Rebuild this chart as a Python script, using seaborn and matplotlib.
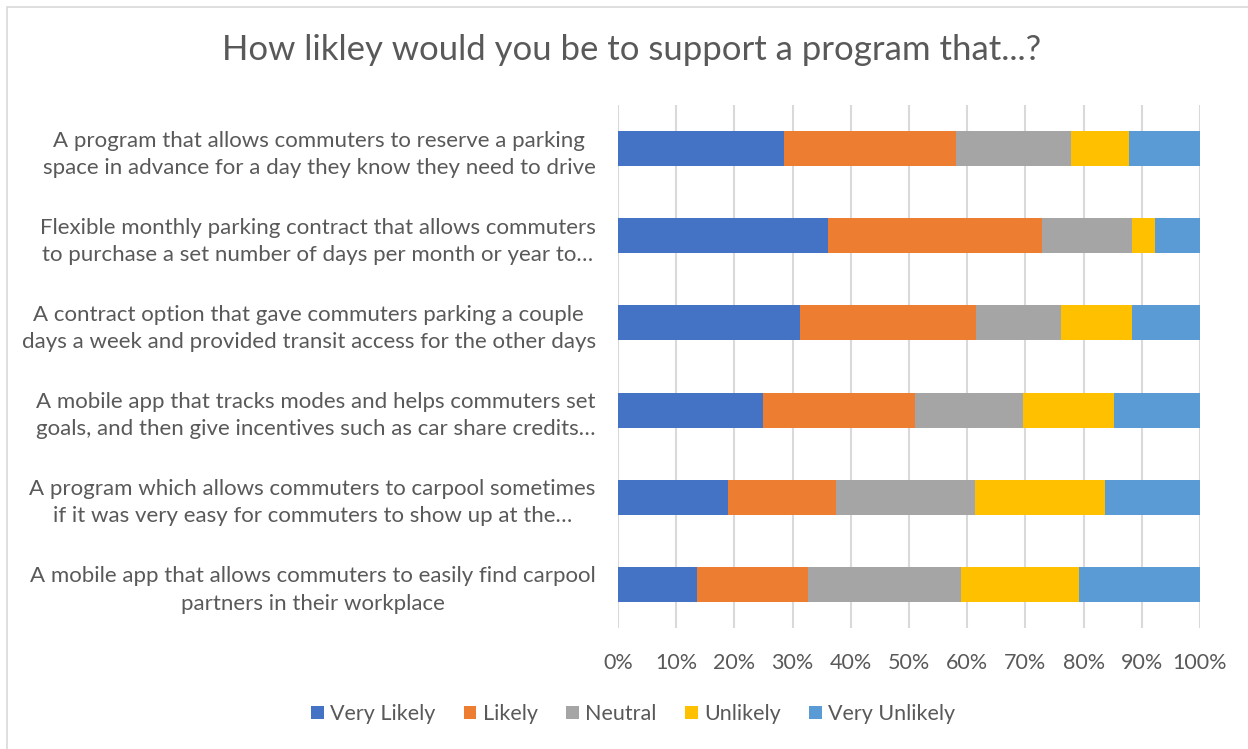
import matplotlib
matplotlib.use("Agg")
import matplotlib.pyplot as plt
from matplotlib.patches import Patch, Rectangle
from matplotlib.ticker import PercentFormatter, MultipleLocator
import seaborn as sns
import pandas as pd
import numpy as np

# Survey questions (top to bottom)
questions = [
    "A program that allows commuters to reserve a parking\nspace in advance for a day they know they need to drive",
    "Flexible monthly parking contract that allows commuters\nto purchase a set number of days per month or year to\u2026",
    "A contract option that gave commuters parking a couple\ndays a week and provided transit access for the other days",
    "A mobile app that tracks modes and helps commuters set\ngoals, and then give incentives such as car share credits\u2026",
    "A program which allows commuters to carpool sometimes\nif it was very easy for commuters to show up at the\u2026",
    "A mobile app that allows commuters to easily find carpool\npartners in their workplace",
]

responses = ["Very Likely", "Likely", "Neutral", "Unlikely", "Very Unlikely"]
colors = ["#4472C4", "#ED7D31", "#A5A5A5", "#FFC000", "#5B9BD5"]

# Share of respondents (%) per answer, one list per response level
very_likely = [28.5, 36.1, 31.3, 24.9, 18.9, 13.6]
likely = [29.6, 36.7, 30.2, 26.1, 18.6, 19.0]
neutral = [19.7, 15.6, 14.7, 18.6, 23.8, 26.4]
unlikely = [10.0, 3.8, 12.1, 15.7, 22.4, 20.2]
very_unlikely = [12.2, 7.8, 11.7, 14.7, 16.3, 20.8]

title = "How likley would you be to support a program that...?"

text_color = "#595959"
grid_color = "#D9D9D9"
font = ["Lato", "DejaVu Sans"]

sns.set_theme(style="white")
plt.rcParams["font.family"] = font

series = [very_likely, likely, neutral, unlikely, very_unlikely]
values = np.array(series, dtype=float)
totals = values.sum(axis=0)
shares = values / totals * 100.0
cumulative = np.cumsum(shares, axis=0)

df = pd.DataFrame(
    [
        {"question": q, "response": r, "end": cumulative[i, j]}
        for i, r in enumerate(responses)
        for j, q in enumerate(questions)
    ]
)

fig = plt.figure(figsize=(12.48, 7.49), dpi=100)
ax = fig.add_axes([618 / 1248, 1 - 628 / 749, 582 / 1248, 523 / 749])

# Stack by drawing cumulative bars from the outermost segment inwards
for i in reversed(range(len(responses))):
    sub = df[df["response"] == responses[i]]
    sns.barplot(
        data=sub, x="end", y="question", order=questions,
        orient="h", color=colors[i], width=0.4, saturation=1,
        linewidth=0, ax=ax, zorder=2,
    )

ax.set_xlim(0, 100)
ax.xaxis.set_major_locator(MultipleLocator(10))
ax.xaxis.set_major_formatter(PercentFormatter(decimals=0))
ax.grid(axis="x", color=grid_color, linewidth=1.5, zorder=0)
ax.set_axisbelow(True)
for s in ax.spines.values():
    s.set_visible(False)
ax.set_xlabel("")
ax.set_ylabel("")
ax.tick_params(axis="x", length=0, pad=18, labelsize=15.5, labelcolor=text_color)
ax.tick_params(axis="y", length=0, pad=16, labelsize=16.0, labelcolor=text_color)
for lab in ax.get_yticklabels():
    lab.set_multialignment("center")
    lab.set_linespacing(1.45)

fig.text(632 / 1248, 1 - 50 / 749, title, ha="center", va="center",
         fontsize=25, color=text_color)

handles = [Patch(facecolor=c, edgecolor="none") for c in colors]
fig.legend(handles, responses, loc="center", bbox_to_anchor=(633 / 1248, 1 - 714 / 749),
           ncol=5, frameon=False, fontsize=15.5, labelcolor=text_color,
           handlelength=0.6, handleheight=0.6, handletextpad=0.3,
           columnspacing=1.3)

# Light chart frame
fig.patches.append(Rectangle((7 / 1248, -0.1), 2.0, 1 - 7 / 749 + 0.1,
                             transform=fig.transFigure, fill=False,
                             edgecolor=grid_color, linewidth=1.2))

fig.savefig("out.png", dpi=100, facecolor="white")
